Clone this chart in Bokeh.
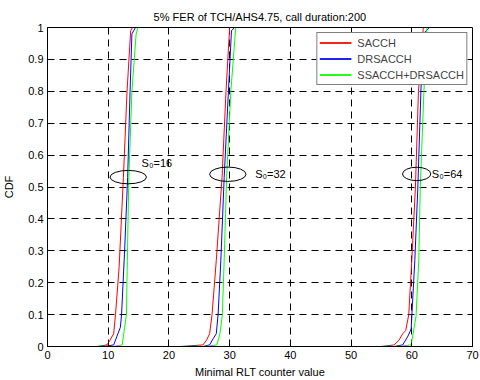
from bokeh.plotting import figure
from bokeh.models import Legend, LegendItem, FixedTicker, Range1d, Title
from bokeh.core.properties import value
from bokeh.embed import file_html
from bokeh.resources import INLINE

# ---- data ----
# S0 = 16 cluster
sacch16_x = [8.2, 9.8, 10.3, 10.9, 11.2, 11.8, 12.5, 13.1, 13.7, 14.0]
sacch16_y = [0.0, 0.005, 0.02, 0.04, 0.10, 0.25, 0.53, 0.80, 0.99, 1.0]
drs16_x = [9.3, 10.9, 11.4, 12.0, 12.2, 12.7, 13.2, 13.6, 13.9, 14.5]
drs16_y = [0.0, 0.005, 0.03, 0.06, 0.10, 0.30, 0.53, 0.80, 0.98, 1.0]
ss16_x = [10.9, 12.3, 13.0, 13.15, 13.4, 13.9, 14.6, 14.9]
ss16_y = [0.0, 0.005, 0.10, 0.27, 0.53, 0.80, 0.98, 1.0]
# S0 = 32 cluster
sacch32_x = [21.9, 25.6, 26.2, 26.7, 27.1, 27.8, 28.75, 29.4, 30.0]
sacch32_y = [0.0, 0.005, 0.02, 0.04, 0.10, 0.27, 0.53, 0.80, 1.0]
drs32_x = [25.6, 26.7, 27.3, 27.8, 28.1, 28.55, 29.1, 29.8, 30.3, 30.8]
drs32_y = [0.0, 0.005, 0.025, 0.04, 0.10, 0.27, 0.53, 0.80, 0.99, 1.0]
ss32_x = [25.9, 27.9, 28.4, 28.8, 29.1, 29.5, 30.2, 31.0]
ss32_y = [0.0, 0.005, 0.04, 0.10, 0.27, 0.53, 0.80, 1.0]
# S0 = 64 cluster
sacch64_x = [54.9, 57.1, 57.9, 58.5, 59.0, 59.5, 60.0, 60.6, 61.1, 61.9]
sacch64_y = [0.0, 0.005, 0.02, 0.04, 0.05, 0.10, 0.27, 0.50, 0.80, 1.0]
drs64_x = [57.1, 58.5, 59.3, 59.9, 60.1, 60.5, 61.0, 61.5, 61.9, 62.9]
drs64_y = [0.0, 0.005, 0.03, 0.055, 0.13, 0.27, 0.50, 0.80, 0.98, 1.0]
ss64_x = [57.7, 59.9, 60.7, 61.15, 61.4, 62.0, 62.5]
ss64_y = [0.0, 0.005, 0.095, 0.27, 0.50, 0.80, 1.0]

series_names = ["SACCH", "DRSACCH", "SSACCH+DRSACCH"]
x_ticks = [0, 10, 20, 30, 40, 50, 60, 70]
y_ticks = [0.0, 0.1, 0.2, 0.3, 0.4, 0.5, 0.6, 0.7, 0.8, 0.9, 1.0]

title_text = "5% FER of TCH/AHS4.75, call duration:200"
x_label_text = "Minimal RLT counter value"
y_label_text = "CDF"

# annotations: ellipses around the clusters and S0 labels
ell_x = [13.3, 29.7, 60.8]
ell_y = [0.531, 0.54, 0.541]
ell_w = [6.0, 6.0, 4.65]
ell_h = [0.042, 0.045, 0.042]
lab_text = ["S\u2080=16", "S\u2080=32", "S\u2080=64"]
lab_x = [15.5, 34.2, 63.3]
lab_y = [0.575, 0.54, 0.54]

FONT = "Liberation Sans"

p = figure(width=480, height=380, output_backend="svg", toolbar_location=None,
           x_range=Range1d(0, 70), y_range=Range1d(0, 1),
           min_border_left=46, min_border_right=8, min_border_top=27, min_border_bottom=0)
p.title = Title(text=title_text, align="center", text_font=FONT, text_font_size="11px",
                text_font_style="normal", text_color="black", standoff=10)

colors = ["#ff0000", "#0000ff", "#00ff00"]
groups = [
    [(sacch16_x, sacch16_y), (sacch32_x, sacch32_y), (sacch64_x, sacch64_y)],
    [(drs16_x, drs16_y), (drs32_x, drs32_y), (drs64_x, drs64_y)],
    [(ss16_x, ss16_y), (ss32_x, ss32_y), (ss64_x, ss64_y)],
]
items = []
for name, col, grp in zip(series_names, colors, groups):
    rs = []
    for xs, ys in grp:
        rs.append(p.line(xs, ys, line_color=col, line_width=1))
    items.append(LegendItem(label=name, renderers=rs))

p.ellipse(x=ell_x, y=ell_y, width=ell_w, height=ell_h, fill_color=None,
          line_color="black", line_width=1)
p.text(x=lab_x, y=lab_y, text=lab_text, text_font=value(FONT), text_font_size="11px",
       text_baseline="middle", text_align="left", text_color="black")

legend = Legend(items=items, location="top_right", margin=5,
                border_line_color="black", border_line_width=1,
                background_fill_color="white", background_fill_alpha=1.0,
                label_text_font=FONT, label_text_font_size="11px",
                glyph_width=32, glyph_height=15, label_height=15,
                label_standoff=6, spacing=1, padding=2)
p.add_layout(legend, "center")

p.xaxis.ticker = FixedTicker(ticks=x_ticks)
p.yaxis.ticker = FixedTicker(ticks=y_ticks)
p.yaxis.major_label_overrides = {0: "0", 1: "1"}
for ax in (p.xaxis, p.yaxis):
    ax.major_label_text_font = FONT
    ax.major_label_text_font_size = "11px"
    ax.axis_label_text_font = FONT
    ax.axis_label_text_font_size = "11px"
    ax.axis_label_text_font_style = "normal"
    ax.axis_label_text_color = "black"
    ax.major_tick_in = 4
    ax.major_tick_out = 0
    ax.minor_tick_line_color = None
    ax.axis_line_color = "black"
    ax.major_tick_line_color = "black"
    ax.major_label_text_color = "black"
p.xaxis.axis_label = x_label_text
p.yaxis.axis_label = y_label_text
p.xaxis.major_label_standoff = 4
p.xaxis.axis_label_standoff = 4
p.yaxis.major_label_standoff = 4
p.yaxis.axis_label_standoff = 10

p.grid.grid_line_color = "black"
p.grid.grid_line_dash = "7 5"
p.grid.grid_line_width = 1
p.outline_line_color = "black"
p.outline_line_width = 1
p.background_fill_color = "white"

open("out.html", "w").write(file_html(p, INLINE))
